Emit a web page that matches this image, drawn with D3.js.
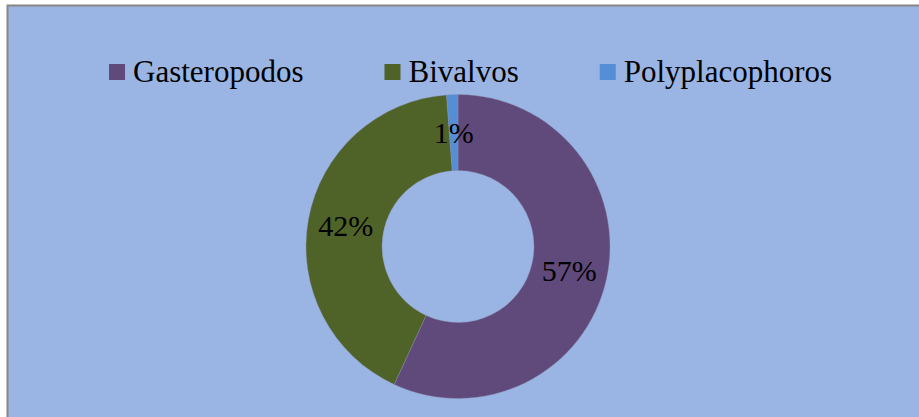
<!DOCTYPE html>
<html>
<head>
<meta charset="utf-8">
<script src="https://cdn.jsdelivr.net/npm/d3@7"></script>
<style>
html,body{margin:0;padding:0;background:#fff;overflow:hidden;}
svg{display:block;}
</style>
</head>
<body>
<svg id="chart" width="919" height="417"></svg>
<script>
// Data
const categories = ["Gasteropodos", "Bivalvos", "Polyplacophoros"];
const values = [56.9, 41.9, 1.2];
const colors = ["#604A7B", "#4F6228", "#558ED5"];

const FONT = '"Liberation Serif"';
const BASE = 24;               // render glyphs at 24px, then scale
const svg = d3.select("#chart");

// chart area background with border (extends past right/bottom edge)
svg.append("rect")
  .attr("x", 7.5).attr("y", 5.5)
  .attr("width", 1000).attr("height", 600)
  .attr("fill", "#9AB5E3")
  .attr("stroke", "#868686").attr("stroke-width", 2);

// Donut
const cx = 458, cy = 246.5, rOuter = 152, rInner = 76;
const total = d3.sum(values);
const pie = d3.pie().sort(null).value(d => d.v);
const arcs = pie(categories.map((c, i) => ({c, v: values[i], col: colors[i]})));
const arc = d3.arc().innerRadius(rInner).outerRadius(rOuter);
const g = svg.append("g").attr("transform", `translate(${cx},${cy})`);
g.selectAll("path").data(arcs).join("path")
  .attr("d", arc)
  .attr("fill", d => d.data.col)
  .attr("stroke", "#8a93b0").attr("stroke-width", 0.4);

// labels
const kLab = 30 / BASE;
const labelArc = d3.arc().innerRadius((rInner + rOuter) / 2).outerRadius((rInner + rOuter) / 2);
g.selectAll("g.lab").data(arcs).join("g")
  .attr("class", "lab")
  .attr("transform", d => `translate(${labelArc.centroid(d)[0]},${labelArc.centroid(d)[1]}) scale(${kLab})`)
  .append("text")
  .attr("dy", "0.34em")
  .attr("text-anchor", "middle")
  .style("font-family", FONT)
  .style("font-size", BASE + "px")
  .attr("fill", "#000")
  .text(d => Math.round(d.data.v / total * 100) + "%");

// Legend
const kLeg = 31 / BASE;
const legend = svg.append("g");
let lx = 109;
const ly = 64, sq = 16, gapText = 8, gapItem = 81;
categories.forEach((c, i) => {
  legend.append("rect").attr("x", lx).attr("y", ly).attr("width", sq).attr("height", sq).attr("fill", colors[i]);
  const t = legend.append("g")
    .attr("transform", `translate(${lx + sq + gapText},82) scale(${kLeg})`)
    .append("text")
    .style("font-family", FONT)
    .style("font-size", BASE + "px").attr("fill", "#000")
    .text(c);
  const w = t.node().getComputedTextLength() * kLeg;
  lx = lx + sq + gapText + w + gapItem;
});
</script>
</body>
</html>
